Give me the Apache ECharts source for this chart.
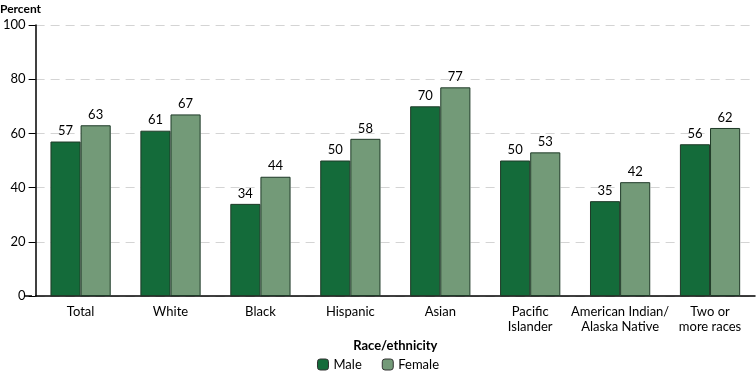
<!DOCTYPE html>
<html><head><meta charset="utf-8">
<script src="https://cdn.jsdelivr.net/npm/echarts@6/dist/echarts.min.js"></script>
<style>html,body{margin:0;padding:0;background:#fff}#c{width:756px;height:371px}</style>
</head><body><div id="c"></div>
<script>
const categories = ["Total","White","Black","Hispanic","Asian","Pacific\nIslander","American Indian/\nAlaska Native","Two or\nmore races"];
const male = [57,61,34,50,70,50,35,56];
const female = [63,67,44,58,77,53,42,62];
const yTicks = [0,20,40,60,80,100];
const FONT = "Lato";
const FS = 13;
const chart = echarts.init(document.getElementById('c'));
chart.setOption({
  animation:false,
  textStyle:{fontFamily:FONT},
  grid:{left:32,right:1,top:25,bottom:75,containLabel:false},
  graphic:[{type:'text',left:0,top:3,style:{text:'Percent',font:'bold 12px '+FONT,fill:'#000'}},
           {type:'line',shape:{x1:25,y1:296,x2:32,y2:296},style:{stroke:'#000',lineWidth:1.5}}],
  legend:{bottom:-5,left:'center',itemWidth:11,itemHeight:11,itemGap:20,
    textStyle:{fontSize:FS,color:'#000',fontFamily:FONT},
    data:[{name:'Male',itemStyle:{color:'#146b3a',borderColor:'#333',borderWidth:1}},
          {name:'Female',itemStyle:{color:'#739a78',borderColor:'#333',borderWidth:1}}]},
  xAxis:{type:'category',data:categories,name:'Race/ethnicity',nameLocation:'middle',nameGap:33,
    nameTextStyle:{fontWeight:'bold',fontSize:FS,color:'#000',fontFamily:FONT},
    axisLine:{lineStyle:{color:'#000',width:1.5}},axisTick:{show:false},
    axisLabel:{color:'#000',fontSize:FS,margin:8,lineHeight:15,interval:0,fontFamily:FONT}},
  yAxis:{type:'value',min:0,max:100,interval:20,
    axisLine:{show:true,lineStyle:{color:'#000',width:1.5}},
    axisTick:{show:true,length:7,lineStyle:{color:'#000'}},
    axisLabel:{color:'#000',fontSize:FS,margin:10,fontFamily:FONT,formatter:v=>yTicks.includes(v)?String(v):''},
    splitLine:{show:true,lineStyle:{color:'#d4d4d4',type:[9,6],width:1}}},
  series:[
    {name:'Male',type:'bar',data:male,barGap:'0%',barCategoryGap:'33%',
     itemStyle:{color:'#146b3a',borderColor:'#1f3a28',borderWidth:1},
     label:{show:true,position:'top',color:'#000',fontSize:FS,distance:4,fontFamily:FONT}},
    {name:'Female',type:'bar',data:female,
     itemStyle:{color:'#739a78',borderColor:'#1f3a28',borderWidth:1},
     label:{show:true,position:'top',color:'#000',fontSize:FS,distance:4,fontFamily:FONT}}
  ]
});
</script></body></html>
